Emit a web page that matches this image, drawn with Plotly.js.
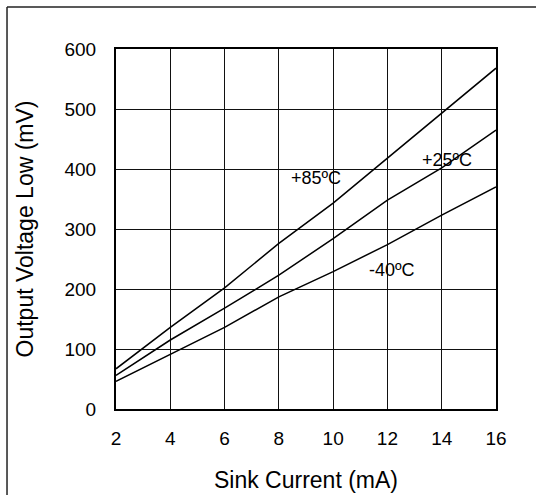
<!DOCTYPE html>
<html>
<head>
<meta charset="utf-8">
<script src="https://cdn.plot.ly/plotly-3.0.1.min.js"></script>
<style>html,body{margin:0;padding:0;background:#fff;}#chart{width:536px;height:495px;}</style>
</head>
<body>
<div id="chart"></div>
<script>
const sinkCurrent = [2, 4, 6, 8, 10, 12, 14, 16];
const vol85 = [67, 136, 202, 276, 343, 418, 493, 568];
const vol25 = [56, 115, 168, 223, 284, 348, 402, 465];
const volM40 = [46, 91, 136, 187, 229, 274, 323, 370];
const seriesLabels = ['+85ºC', '+25ºC', '-40ºC'];
const labelX = [9.37, 14.2, 12.17];
const labelY = [385, 415, 231];
const xTicks = [2, 4, 6, 8, 10, 12, 14, 16];
const yTicks = [0, 100, 200, 300, 400, 500, 600];

const font = 'Liberation Sans, Arial, Helvetica, sans-serif';
const lineStyle = {color: '#000', width: 1.5};
const traces = [vol85, vol25, volM40].map((v, i) => ({
  x: sinkCurrent, y: v, type: 'scatter', mode: 'lines',
  line: lineStyle, name: seriesLabels[i], hoverinfo: 'skip'
}));

const layout = {
  width: 536, height: 495,
  margin: {l: 116, r: 40, t: 49, b: 86},
  paper_bgcolor: '#fff', plot_bgcolor: '#fff',
  showlegend: false,
  font: {family: font, color: '#000'},
  xaxis: {
    range: [2, 16], tickvals: xTicks, ticktext: xTicks.map(String),
    showgrid: true, gridcolor: '#111', gridwidth: 1,
    zeroline: false, showline: true, linecolor: '#000', linewidth: 2, mirror: true,
    ticks: '', ticklabelstandoff: 11,
    tickfont: {size: 19, family: font, color: '#000'},
    title: {text: 'Sink Current (mA)', font: {size: 23, family: font, color: '#000'}, standoff: 24}
  },
  yaxis: {
    range: [0, 600], tickvals: yTicks, ticktext: yTicks.map(String),
    showgrid: true, gridcolor: '#111', gridwidth: 1,
    zeroline: false, showline: true, linecolor: '#000', linewidth: 2, mirror: true,
    ticks: '', ticklabelstandoff: 14,
    tickfont: {size: 19, family: font, color: '#000'},
    title: {text: 'Output Voltage Low (mV)', font: {size: 23, family: font, color: '#000'}, standoff: 24}
  },
  annotations: seriesLabels.map((t, i) => ({
    x: labelX[i], y: labelY[i], xref: 'x', yref: 'y', text: t, showarrow: false,
    font: {size: 18, family: font, color: '#000'}, bgcolor: 'rgba(0,0,0,0)'
  })),
  shapes: [
    {type: 'line', xref: 'paper', yref: 'paper', x0: -0.2868, x1: 1.3, y0: 1.1167, y1: 1.1167, line: {color: '#222', width: 1.5}},
    {type: 'line', xref: 'paper', yref: 'paper', x0: -0.2868, x1: -0.2868, y0: 1.1167, y1: -0.3, line: {color: '#222', width: 1.5}}
  ]
};

Plotly.newPlot('chart', traces, layout, {staticPlot: true, displayModeBar: false});
</script>
</body>
</html>
